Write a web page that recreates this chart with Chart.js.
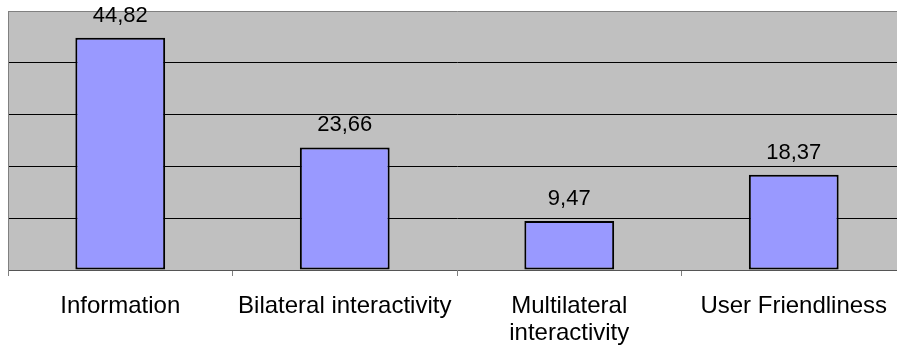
<!DOCTYPE html>
<html>
<head>
<meta charset="utf-8">
<script src="https://cdn.jsdelivr.net/npm/chart.js@4/dist/chart.umd.min.js"></script>
<style>
  html, body { margin: 0; padding: 0; background: #ffffff; overflow: hidden; }
  #wrap { width: 920px; height: 349px; }
</style>
</head>
<body>
<div id="wrap"><canvas id="c" width="920" height="349"></canvas></div>
<script>
// Categories and their scores
const categories = ["Information", "Bilateral interactivity", ["Multilateral", "interactivity"], "User Friendliness"];
const scores = [44.82, 23.66, 9.47, 18.37];
const scoreLabels = ["44,82", "23,66", "9,47", "18,37"];
const yMin = 0, yMax = 50, yStep = 10;

const FONT = '"Liberation Sans", Arial, sans-serif';

// Grey plot background
const plotBackground = {
  id: 'plotBackground',
  beforeDraw(chart) {
    const { ctx, chartArea: a } = chart;
    ctx.save();
    ctx.fillStyle = '#c0c0c0';
    ctx.fillRect(a.left, a.top, a.right - a.left, a.bottom - a.top);
    ctx.restore();
  }
};

// Value labels above each bar
const valueLabels = {
  id: 'valueLabels',
  afterDatasetsDraw(chart) {
    const { ctx } = chart;
    const meta = chart.getDatasetMeta(0);
    ctx.save();
    ctx.font = '22px ' + FONT;
    ctx.fillStyle = '#000000';
    ctx.textAlign = 'center';
    ctx.textBaseline = 'alphabetic';
    meta.data.forEach((bar, i) => {
      ctx.fillText(scoreLabels[i], bar.x, bar.y - 16);
    });
    ctx.restore();
  }
};

new Chart(document.getElementById('c'), {
  type: 'bar',
  data: {
    labels: categories,
    datasets: [{
      data: scores,
      backgroundColor: '#9999ff',
      borderColor: '#000000',
      borderWidth: 2,
      borderSkipped: false,
      categoryPercentage: 1.0,
      barPercentage: 0.4
    }]
  },
  options: {
    responsive: false,
    animation: false,
    devicePixelRatio: 1,
    layout: { padding: { left: 0, right: 14, top: 11, bottom: 0 } },
    plugins: {
      legend: { display: false },
      tooltip: { enabled: false }
    },
    scales: {
      x: {
        offset: true,
        grid: {
          offset: true,
          drawOnChartArea: false,
          drawTicks: true,
          tickLength: 6,
          color: '#808080'
        },
        border: { display: true, color: '#555555', width: 1 },
        ticks: {
          color: '#000000',
          font: { family: FONT, size: 24, lineHeight: 1.12 },
          padding: 17,
          maxRotation: 0,
          autoSkip: false
        },
        afterFit(scale) { scale.height = 79; }
      },
      y: {
        min: yMin,
        max: yMax,
        ticks: { display: false, stepSize: yStep },
        grid: {
          drawTicks: false,
          color: (ctx) => {
            if (ctx.tick.value === yMax) return '#808080';
            if (ctx.tick.value === yMin) return 'rgba(0,0,0,0)';
            return '#000000';
          },
          lineWidth: 1
        },
        border: { display: true, color: '#808080', width: 1 },
        afterFit(scale) { scale.width = 8; }
      }
    }
  },
  plugins: [plotBackground, valueLabels]
});
</script>
</body>
</html>
